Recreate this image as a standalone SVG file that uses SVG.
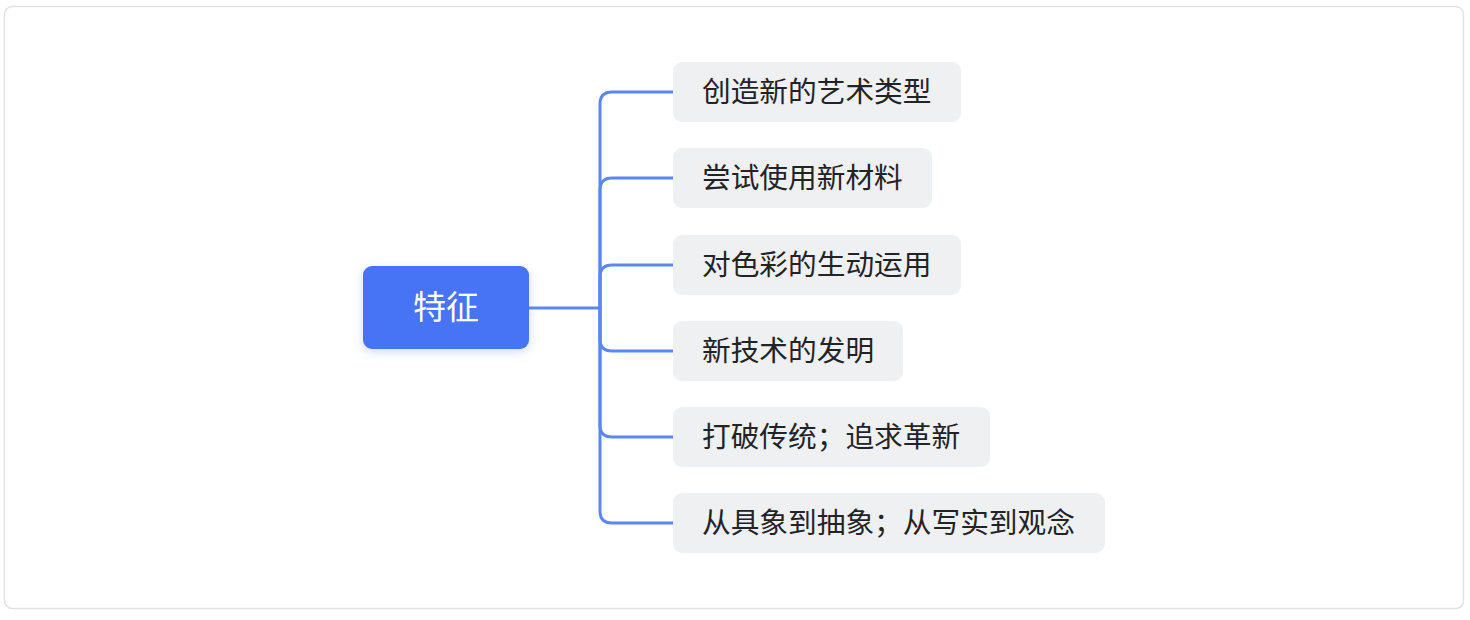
<svg xmlns="http://www.w3.org/2000/svg" width="1470" height="620" viewBox="0 0 1470 620">
<defs>
<style>
.frame{fill:#ffffff;stroke:#e2e2e4;stroke-width:1.5}
.child rect{fill:#eff0f2}
.child text{font-family:"Noto Sans CJK SC","Noto Sans",sans-serif;font-size:28.7px;fill:#222326;dominant-baseline:central}
.conn path{fill:none;stroke:#5b87f4;stroke-width:3;stroke-linecap:round}
.root text{font-family:"Noto Sans CJK SC","Noto Sans",sans-serif;font-size:33px;fill:#ffffff;text-anchor:middle;dominant-baseline:central}
</style>
<filter id="sh" x="-20%" y="-30%" width="140%" height="160%">
<feDropShadow dx="0" dy="3" stdDeviation="5" flood-color="#4673f5" flood-opacity="0.25"/>
</filter>
</defs>
<rect class="frame" x="4.5" y="6.5" width="1459" height="602" rx="8"/>
<g class="conn">
<path d="M529,308 H600"/>
<path d="M600,308 V104 Q600,92 612,92 H673"/>
<path d="M600,308 V190 Q600,178 612,178 H673"/>
<path d="M600,308 V277 Q600,265 612,265 H673"/>
<path d="M600,308 V339 Q600,351 612,351 H673"/>
<path d="M600,308 V425 Q600,437 612,437 H673"/>
<path d="M600,308 V511 Q600,523 612,523 H673"/>
</g>
<g id="root" class="root">
<rect x="363" y="266" width="166" height="83" rx="9" fill="#4673f5" filter="url(#sh)"/>
<text x="446" y="305">特征</text>
</g>
<g id="n1" class="child"><rect x="673" y="62" width="288" height="60" rx="9"/><text x="702" y="89.5">创造新的艺术类型</text></g>
<g id="n2" class="child"><rect x="673" y="148" width="259" height="60" rx="9"/><text x="702" y="175.5">尝试使用新材料</text></g>
<g id="n3" class="child"><rect x="673" y="235" width="288" height="60" rx="9"/><text x="702" y="262.5">对色彩的生动运用</text></g>
<g id="n4" class="child"><rect x="673" y="321" width="230" height="60" rx="9"/><text x="702" y="348.5">新技术的发明</text></g>
<g id="n5" class="child"><rect x="673" y="407" width="317" height="60" rx="9"/><text x="702" y="434.5">打破传统；追求革新</text></g>
<g id="n6" class="child"><rect x="673" y="493" width="432" height="60" rx="9"/><text x="702" y="520.5">从具象到抽象；从写实到观念</text></g>
</svg>
